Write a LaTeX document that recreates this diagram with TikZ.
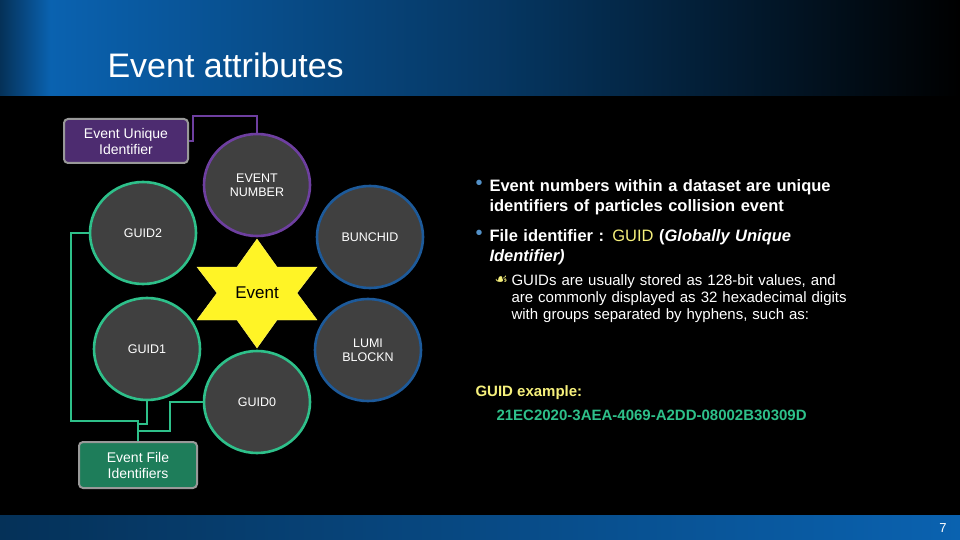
\documentclass[tikz,border=0pt]{standalone}
\usepackage{fontspec}
\usetikzlibrary{shapes.geometric}
\setmainfont{Liberation Sans}
\newfontfamily\djv{DejaVu Sans}
\begin{document}
\begin{tikzpicture}[x=1pt,y=-1pt,
  circ/.style={ellipse,draw,line width=2.6pt,fill=cgray,minimum width=106pt,minimum height=102pt,inner sep=0pt,align=center,text=white,font=\fontsize{12.5}{14}\selectfont},
  gl/.style={draw=cgreen,line width=2.6pt},
  lbox/.style={rounded corners=4pt,draw=gray!80,line width=2pt,text=white,align=center,font=\fontsize{14}{16}\selectfont}]
\definecolor{cgray}{HTML}{404040}
\definecolor{cgreen}{HTML}{2EC08A}
\definecolor{cpurple}{HTML}{6E3FA0}
\definecolor{cblue}{HTML}{1D5A9A}
\definecolor{cbar}{HTML}{0A62B0}
\definecolor{cyel}{HTML}{F6F07C}
\useasboundingbox (0,0) rectangle (960,540);
\fill[black] (0,0) rectangle (960,540);
\shade[left color=cbar, right color=black, middle color=cbar!55!black] (50,0) rectangle (960,96);
\shade[left color=cbar!50!black, right color=cbar] (0,0) rectangle (50.5,96);
\shade[left color=cbar!50!black, right color=cbar] (0,515) rectangle (960,540);
\node[anchor=west,text=white,font=\fontsize{34}{36}\selectfont] (title) at (104,65) {Event attributes};
\node[anchor=east,text=white,font=\fontsize{13}{14}\selectfont] (pg) at (950,528) {7};

\node[circ,draw=cpurple] (en) at (257,185) {EVENT\\NUMBER};
\node[circ,draw=cgreen] (g2) at (143,233) {GUID2};
\node[circ,draw=cblue] (bc) at (370,237) {BUNCHID};
\node[circ,draw=cgreen] (g1) at (147,349) {GUID1};
\node[circ,draw=cblue] (lb) at (368,350) {LUMI\\BLOCKN};
\node[circ,draw=cgreen] (g0) at (257,402) {GUID0};
\fill[yellow!85!white,draw=yellow!60!white] (257,239)--(277,267)--(317,267)--(297,293)--(317,320)--(277,320)--(257,348)--(237,320)--(197,320)--(217,293)--(197,267)--(237,267)--cycle;
\node[font=\fontsize{17}{18}\selectfont] (ev) at (257,293) {Event};

\node[lbox,fill=cpurple!70!black,minimum width=124pt,minimum height=44pt] (eu) at (126,141) {Event Unique\\Identifier};
\node[lbox,fill=cgreen!65!black,minimum width=118pt,minimum height=46pt] (ef) at (138,465) {Event File\\Identifiers};
\draw[draw=cpurple,line width=2.6pt] (eu.east) -- ++(4,0) |- (257,116) -- (en.north);
\draw[gl] (g2.west) -| (71,421) -| (ef.north);
\draw[gl] (g1.south) |- (139,424);
\draw[gl] (g0.west) -| (170,431) -- (139,431);

\begin{scope}[text=white]
\node[anchor=west,text=cbar!70!white,font=\fontsize{20}{20}\selectfont] (b1) at (472,185) {•};
\node[anchor=north west,align=left,text width=400pt,font=\bfseries\fontsize{16.5}{20}\selectfont] (t1) at (486,176) {Event numbers within a dataset are unique\\identifiers of particles collision event};
\node[anchor=west,text=cbar!70!white,font=\fontsize{20}{20}\selectfont] (b2) at (472,235) {•};
\node[anchor=north west,align=left,text width=400pt,font=\bfseries\fontsize{16.5}{20}\selectfont] (t2) at (486,226) {File identifier : {\mdseries\color{cyel}GUID} ({\itshape Globally Unique\\Identifier)}};
\node[anchor=west,text=cyel,font=\djv\fontsize{15}{15}\selectfont] (b3) at (491,280) {☙};
\node[anchor=north west,align=left,text width=400pt,font=\fontsize{15}{17}\selectfont] (t3) at (508,271) {GUIDs are usually stored as 128-bit values, and\\are commonly displayed as 32 hexadecimal digits\\with groups separated by hyphens, such as:};
\node[anchor=west,text=cyel,font=\bfseries\fontsize{15}{16}\selectfont] (gx) at (472,393) {GUID example:};
\node[anchor=west,text=cgreen,font=\bfseries\fontsize{15}{16}\selectfont] (gc) at (493,415) {21EC2020-3AEA-4069-A2DD-08002B30309D};
\end{scope}
\end{tikzpicture}
\end{document}
